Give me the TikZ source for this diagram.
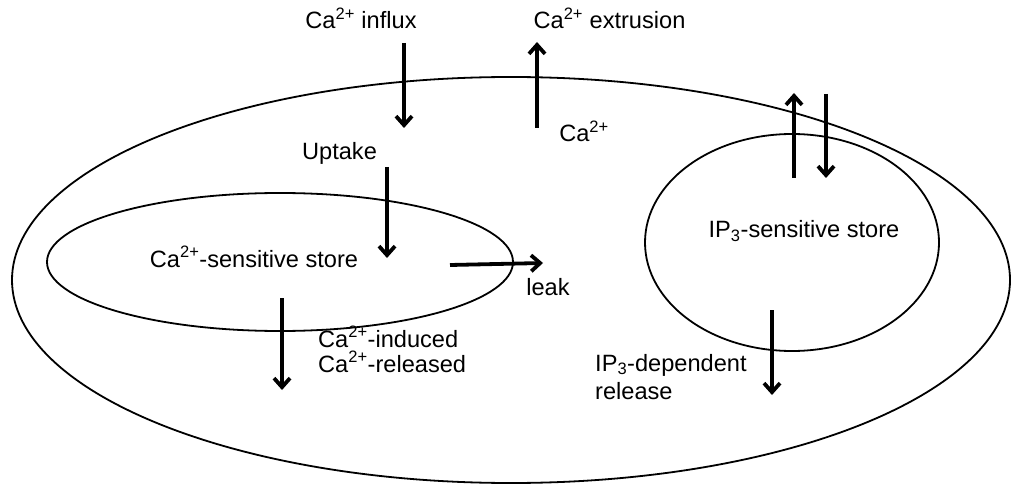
\documentclass[tikz,border=0pt]{standalone}
\usepackage{fontspec}
\setmainfont{Liberation Sans}
\usetikzlibrary{shapes.geometric,arrows.meta}
\newcommand{\Caion}{Ca\textsuperscript{2+}}
\begin{document}
\begin{tikzpicture}[x=1pt,y=-1pt,
  membrane/.style={draw, ellipse, line width=1.8pt, inner sep=0pt, outer sep=0pt},
  flux/.style={line width=3.8pt, -{Straight Barb[length=9pt,width=16pt]}},
  lbl/.style={font=\fontsize{23.6}{25}\selectfont, inner sep=0pt, anchor=base},
  ]
\useasboundingbox (0,0) rectangle (1011,486);
% compartments
\node[membrane, minimum width=998pt, minimum height=406pt] (cell) at (511,280) {};
\node[membrane, minimum width=466pt, minimum height=138pt] (castore) at (280,262) {};
\node[membrane, minimum width=294pt, minimum height=217pt] (ipstore) at (792,242.5) {};
% labels
\node[lbl] (influx) at (361,29) {\Caion{} influx};
\node[lbl] (extr) at (609.5,29) {\Caion{} extrusion};
\node[lbl] (caIn) at (584,142) {\Caion};
\node[lbl] (uptake) at (339.5,160) {Uptake};
\node[lbl] (cass) at (254,267) {\Caion-sensitive store};
\node[lbl] (leak) at (548,295) {leak};
\node[lbl, anchor=base west, align=left] (cicr) at (318,372) {\Caion-induced\\\Caion-released};
\node[lbl] (ip3s) at (804,238) {IP\textsubscript{3}-sensitive store};
\node[lbl, anchor=base west, align=left] (ip3r) at (595,399) {IP\textsubscript{3}-dependent\\[3pt]release};
% arrow end points
\coordinate (inS) at (404,43);   \coordinate (inE) at (404,128);
\coordinate (exS) at (537,128);  \coordinate (exE) at (537,42);
\coordinate (upS) at (794,178);  \coordinate (upE) at (794,93);
\coordinate (dnS) at (826,94);   \coordinate (dnE) at (826,178);
\coordinate (utS) at (387,167);  \coordinate (utE) at (387,258);
\coordinate (lkS) at (450,265);  \coordinate (lkE) at (543,263);
\coordinate (crS) at (282,298);  \coordinate (crE) at (282,390);
\coordinate (ipS) at (772,310);  \coordinate (ipE) at (772,395);
% fluxes
\draw[flux] (inS) -- (inE);
\draw[flux] (exS) -- (exE);
\draw[flux] (upS) -- (upE);
\draw[flux] (dnS) -- (dnE);
\draw[flux] (utS) -- (utE);
\draw[flux] (lkS) -- (lkE);
\draw[flux] (crS) -- (crE);
\draw[flux] (ipS) -- (ipE);
\end{tikzpicture}
\end{document}
